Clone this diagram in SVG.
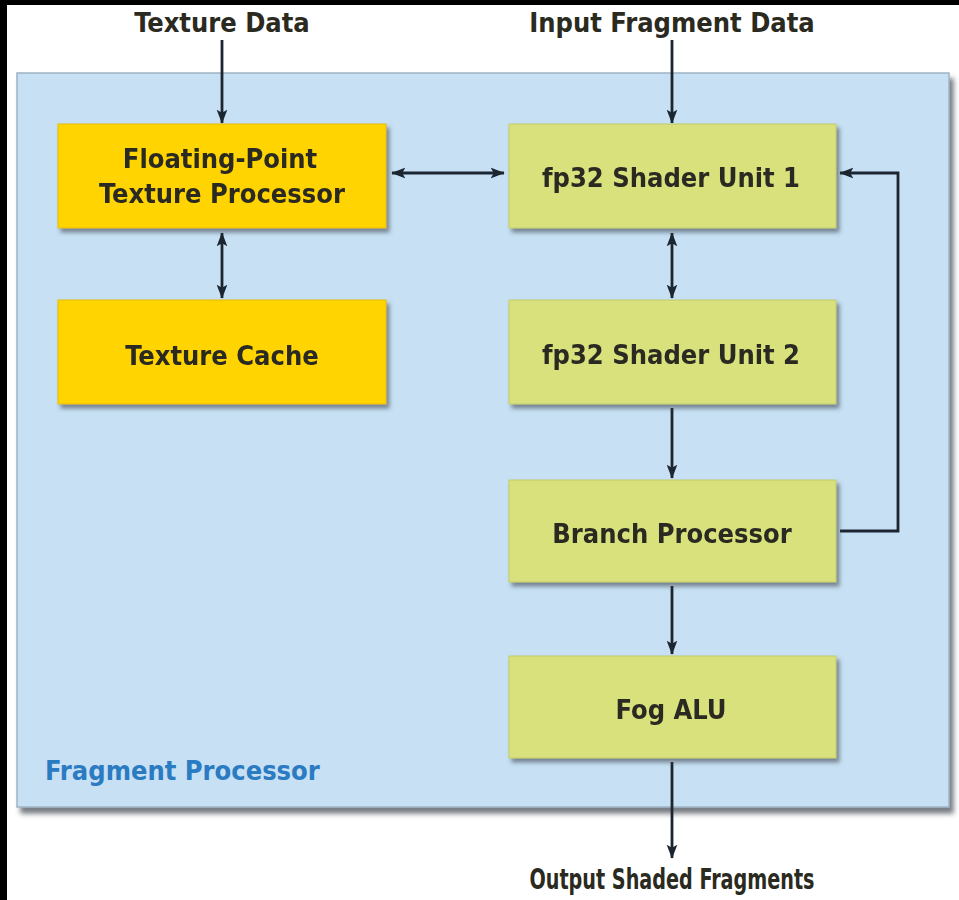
<svg xmlns="http://www.w3.org/2000/svg" width="959" height="900" viewBox="0 0 959 900">
  <defs>
    <style>
      .lbl { font-family: "DejaVu Sans Condensed", "DejaVu Sans", sans-serif; font-weight: bold; font-size: 27px; fill: #2a2a20; text-anchor: middle; }
      .node-y { fill: #FFD400; stroke: #E6BC00; stroke-width: 1; }
      .node-g { fill: #D8E17C; stroke: #C3CC6A; stroke-width: 1; }
      .wire { fill: none; stroke: #1c2630; stroke-width: 2.8; }
    </style>
    <filter id="shadow" x="-10%" y="-10%" width="130%" height="140%">
      <feDropShadow dx="3" dy="4" stdDeviation="2" flood-color="#3a4450" flood-opacity="0.6"/>
    </filter>
    <filter id="frameShadow" x="-5%" y="-5%" width="110%" height="110%">
      <feDropShadow dx="4" dy="6" stdDeviation="2.5" flood-color="#4a525a" flood-opacity="0.75"/>
    </filter>
    <marker id="arr" viewBox="0 0 10 10" refX="9.5" refY="5" markerWidth="5" markerHeight="5" orient="auto-start-reverse" markerUnits="strokeWidth">
      <path d="M0,1.2 L10,5 L0,8.8 L2.2,5 Z" fill="#1c2630"/>
    </marker>
  </defs>

  <!-- page -->
  <rect x="0" y="0" width="959" height="900" fill="#ffffff"/>
  <rect x="0" y="0" width="959" height="5" fill="#000000"/>
  <rect x="0" y="0" width="7" height="900" fill="#000000"/>

  <!-- fragment processor frame -->
  <g id="fragment-processor">
    <rect x="17" y="73" width="932" height="734" fill="#C7E0F4" stroke="#9FB3C4" stroke-width="1.5" filter="url(#frameShadow)"/>
    <text x="45" y="780" font-family="'DejaVu Sans Condensed', 'DejaVu Sans', sans-serif" font-weight="bold" font-size="27" fill="#2B7BC2">Fragment Processor</text>
  </g>

  <!-- external labels -->
  <text class="lbl" x="222" y="32">Texture Data</text>
  <text class="lbl" x="672" y="32">Input Fragment Data</text>
  <text class="lbl" x="672" y="889" style="font-size:29px" textLength="285" lengthAdjust="spacingAndGlyphs">Output Shaded Fragments</text>

  <!-- connectors -->
  <g id="connectors" class="wire">
    <line x1="222" y1="40" x2="222" y2="123" marker-end="url(#arr)"/>
    <line x1="672" y1="40" x2="672" y2="123" marker-end="url(#arr)"/>
    <line x1="392" y1="173" x2="504" y2="173" marker-start="url(#arr)" marker-end="url(#arr)"/>
    <line x1="222" y1="233" x2="222" y2="298" marker-start="url(#arr)" marker-end="url(#arr)"/>
    <line x1="672" y1="233" x2="672" y2="298" marker-start="url(#arr)" marker-end="url(#arr)"/>
    <line x1="672" y1="408" x2="672" y2="478" marker-end="url(#arr)"/>
    <line x1="672" y1="586" x2="672" y2="654" marker-end="url(#arr)"/>
    <line x1="672" y1="762" x2="672" y2="858" marker-end="url(#arr)"/>
    <polyline points="840,531 898,531 898,173 840,173" marker-end="url(#arr)"/>
  </g>

  <!-- texture side -->
  <g id="fp-texture-processor" filter="url(#shadow)">
    <rect class="node-y" x="58" y="124" width="328" height="104"/>
    <text class="lbl" x="220" y="168">Floating-Point</text>
    <text class="lbl" x="222" y="203">Texture Processor</text>
  </g>
  <g id="texture-cache" filter="url(#shadow)">
    <rect class="node-y" x="58" y="300" width="328" height="104"/>
    <text class="lbl" x="222" y="365">Texture Cache</text>
  </g>

  <!-- shader pipeline -->
  <g id="shader-unit-1" filter="url(#shadow)">
    <rect class="node-g" x="509" y="124" width="327" height="104"/>
    <text class="lbl" x="671" y="187">fp32 Shader Unit 1</text>
  </g>
  <g id="shader-unit-2" filter="url(#shadow)">
    <rect class="node-g" x="509" y="300" width="327" height="104"/>
    <text class="lbl" x="671" y="364">fp32 Shader Unit 2</text>
  </g>
  <g id="branch-processor" filter="url(#shadow)">
    <rect class="node-g" x="509" y="480" width="327" height="102"/>
    <text class="lbl" x="672" y="543">Branch Processor</text>
  </g>
  <g id="fog-alu" filter="url(#shadow)">
    <rect class="node-g" x="509" y="656" width="327" height="102"/>
    <text class="lbl" x="671" y="719">Fog ALU</text>
  </g>
</svg>
